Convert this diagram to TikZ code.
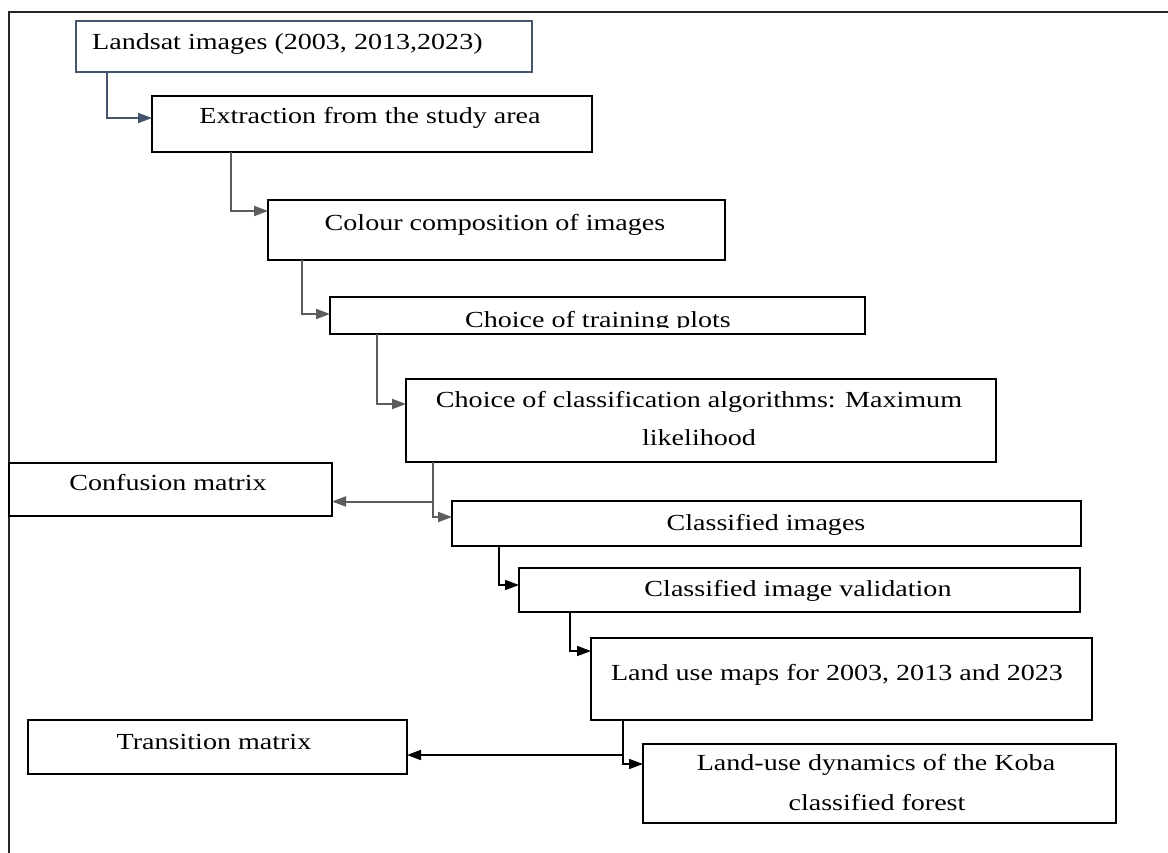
\documentclass[tikz,border=0pt]{standalone}
\usepackage{fontspec}
\setmainfont[FakeStretch=1.22]{Liberation Serif}
\usetikzlibrary{arrows.meta,calc}
\definecolor{slate}{HTML}{44546A}
\definecolor{conngray}{HTML}{5C5C5C}
\tikzset{
  box/.style={draw=black, line width=1.6pt, rectangle, inner sep=0pt, outer sep=0pt},
  lbl/.style={anchor=base, inner sep=0pt, font=\fontsize{23}{27}\selectfont},
  conn/.style={line width=2pt, draw=conngray, -{Triangle[length=14pt,width=10pt]}},
  connk/.style={line width=1.6pt, draw=black, -{Triangle[length=14pt,width=10pt]}},
}
\begin{document}
\begin{tikzpicture}[x=1pt,y=-1pt]
\useasboundingbox (0,0) rectangle (1168,853);
% frame
\draw[line width=2pt, black!85] (9,853) -- (9,12) -- (1168,12);
% boxes
\node[box, draw=slate, minimum width=456pt, minimum height=51pt] (L) at (304,46.5) {};
\node[box, minimum width=440pt, minimum height=56pt] (E) at (372,124) {};
\node[box, minimum width=457pt, minimum height=60pt] (C) at (496.5,230) {};
\node[box, minimum width=535pt, minimum height=37pt] (T) at (597.5,315.5) {};
\node[box, minimum width=590pt, minimum height=83pt] (A) at (701,420.5) {};
\node[box, minimum width=323pt, minimum height=53pt] (CM) at (170.5,489.5) {};
\node[box, minimum width=629pt, minimum height=45pt] (CI) at (766.5,523.5) {};
\node[box, minimum width=561pt, minimum height=44pt] (V) at (799.5,590) {};
\node[box, minimum width=501pt, minimum height=82pt] (LU) at (841.5,679) {};
\node[box, minimum width=473pt, minimum height=79pt] (D) at (879.5,783.5) {};
\node[box, minimum width=379pt, minimum height=54pt] (TM) at (217.5,747) {};
% texts
\node[lbl, anchor=base west] (Lt) at (92,50) {Landsat images (2003, 2013,2023)};
\node[lbl] (Et) at (370,124) {Extraction from the study area};
\node[lbl] (Ct) at (495,231) {Colour composition of images};
\begin{scope}
  \clip (T.north west) rectangle ($(T.south east)+(0,-7)$);
  \node[lbl] (Tt) at (598,327.5) {Choice of training plots};
\end{scope}
\node[lbl] (At1) at (699,407) {Choice of classification algorithms: Maximum};
\node[lbl] (At2) at (699,445) {likelihood};
\node[lbl] (CMt) at (168,490) {Confusion matrix};
\node[lbl] (CIt) at (766,530) {Classified images};
\node[lbl] (Vt) at (798,596) {Classified image validation};
\node[lbl] (LUt) at (837,680) {Land use maps for 2003, 2013 and 2023};
\node[lbl] (Dt1) at (876,770) {Land-use dynamics of the Koba};
\node[lbl] (Dt2) at (877,810) {classified forest};
\node[lbl] (TMt) at (214,749) {Transition matrix};
% connectors
\draw[conn, draw=slate] ($(L.south west)+(31,0)$) |- ($(E.west)+(0,-6)$);
\draw[conn] ($(E.south west)+(79,0)$) |- ($(C.west)+(0,-19)$);
\draw[conn] ($(C.south west)+(34,0)$) |- ($(T.west)+(0,-1.5)$);
\draw[conn] ($(T.south west)+(47,0)$) |- ($(A.west)+(0,-16.5)$);
\draw[conn] ($(A.south west)+(27,0)$) |- ($(CI.west)+(0,-6.5)$);
\draw[conn] ($(A.south west)+(27,39.5)$) -- ($(CM.east)+(0,12)$);
\draw[connk] ($(CI.south west)+(47,0)$) |- ($(V.west)+(0,-5)$);
\draw[connk] ($(V.south west)+(51,0)$) |- ($(LU.west)+(0,-28)$);
\draw[connk] ($(LU.south west)+(32,0)$) |- ($(D.west)+(0,-19.5)$);
\draw[connk] ($(LU.south west)+(32,35)$) -- ($(TM.east)+(0,8)$);
\end{tikzpicture}
\end{document}
